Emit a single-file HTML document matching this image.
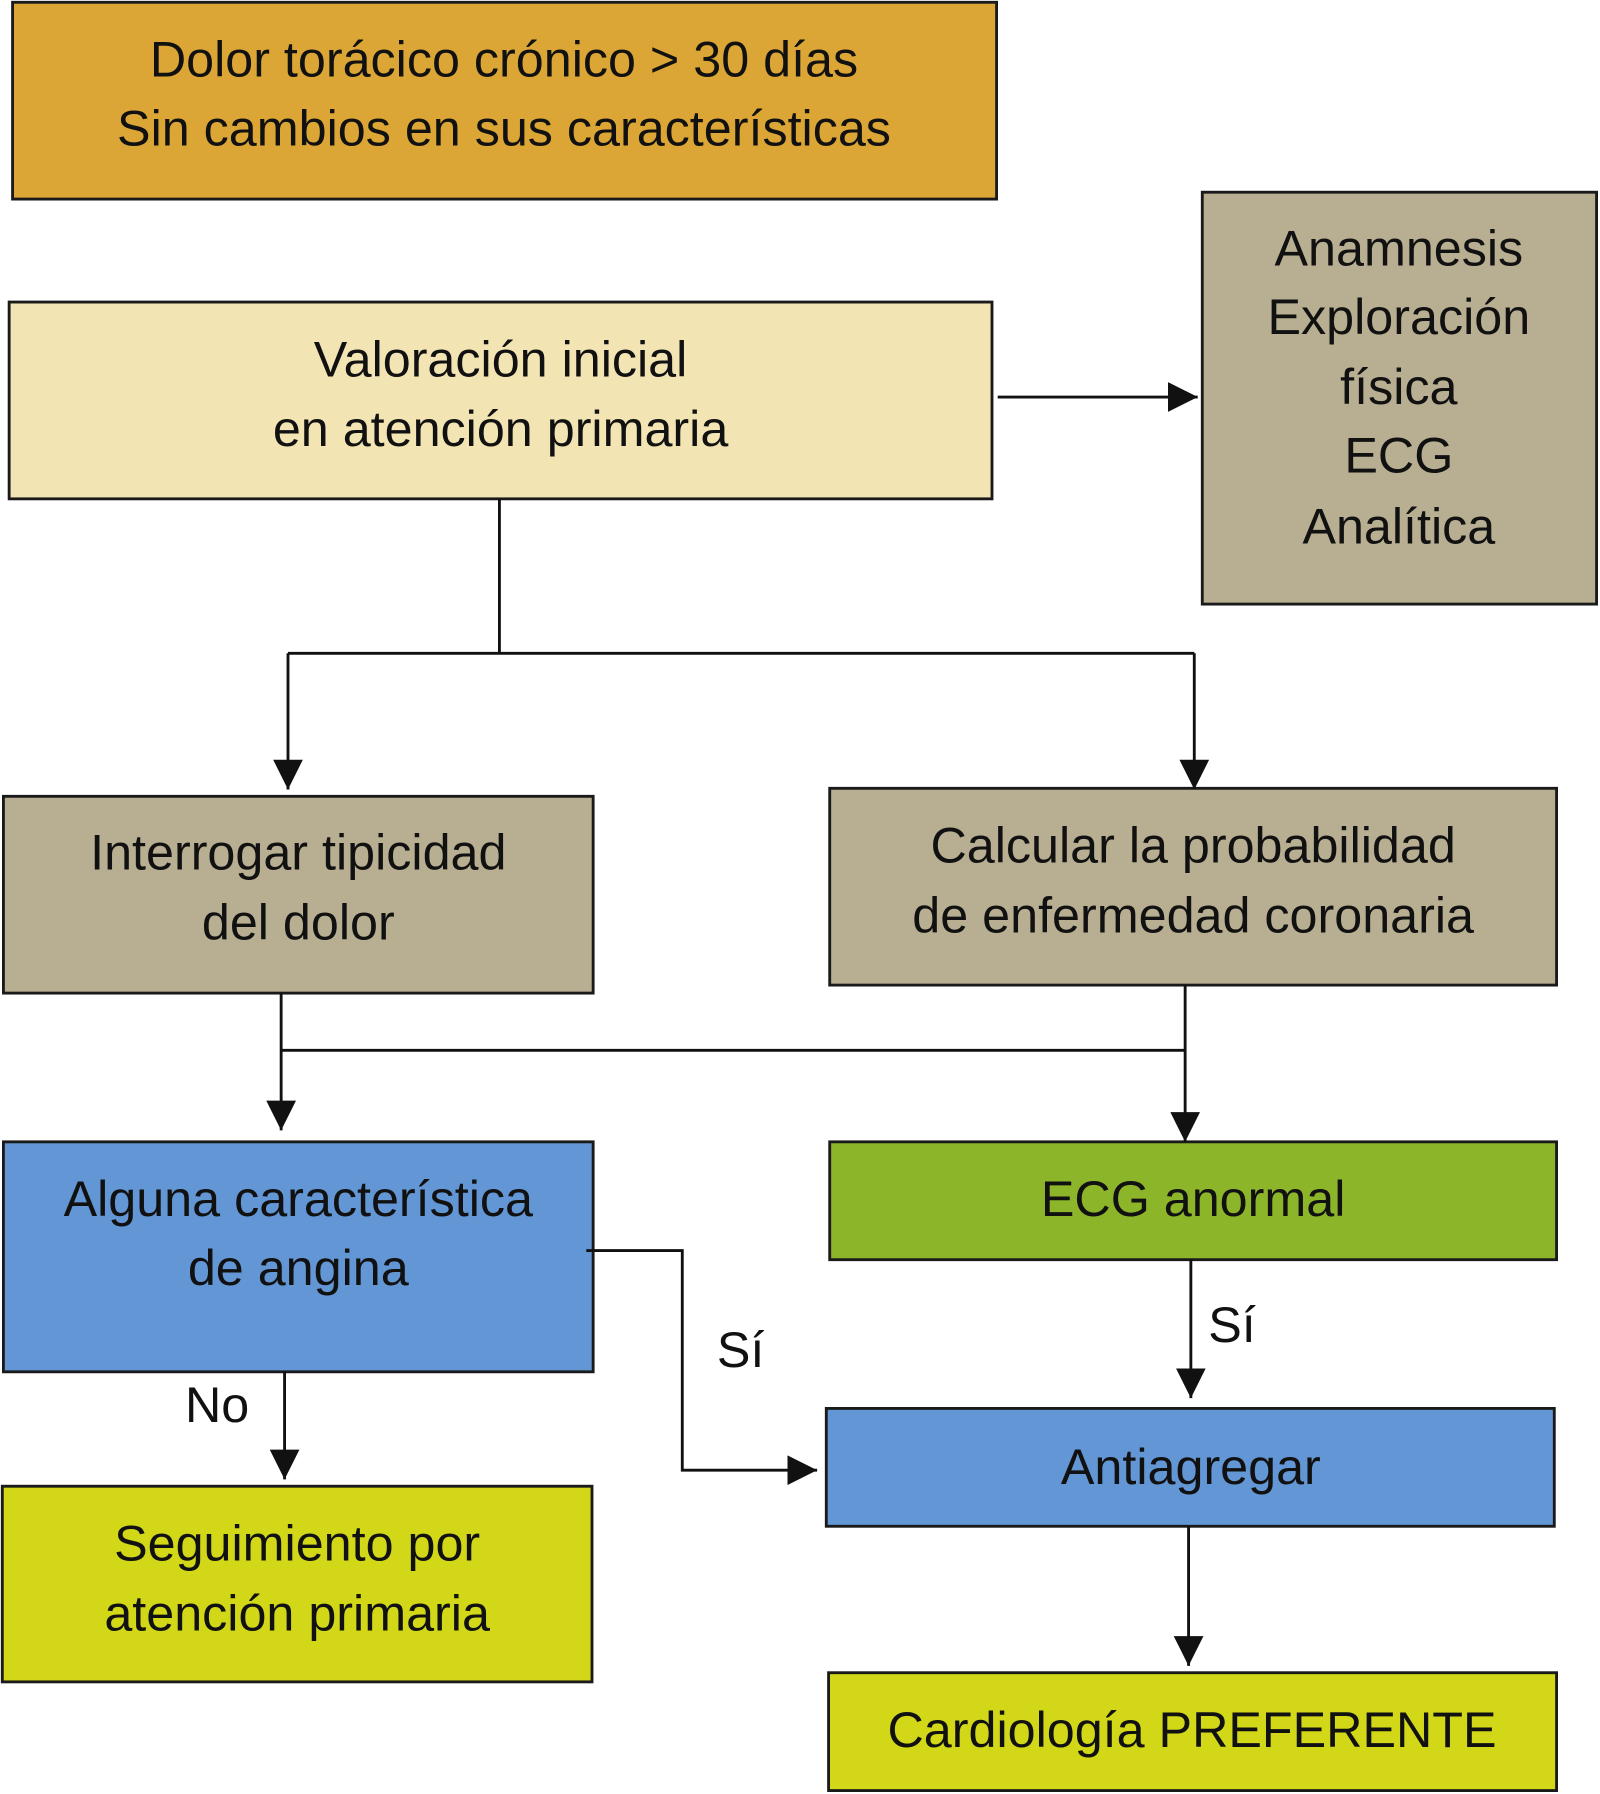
<!DOCTYPE html>
<html><head><meta charset="utf-8"><style>html,body{margin:0;padding:0;background:#fff}svg{display:block}</style></head>
<body>
<svg width="1600" height="1794" viewBox="0 0 1400 1568" preserveAspectRatio="none" xmlns="http://www.w3.org/2000/svg" font-family="Liberation Sans, Arial, sans-serif" font-size="44" text-anchor="middle">
<defs><marker id="a" markerWidth="10" markerHeight="10" refX="9" refY="5" orient="auto" markerUnits="userSpaceOnUse" viewBox="0 0 10 10"><path d="M0,0L10,5L0,10z" fill="#111"/></marker>
<marker id="b" viewBox="0 0 10 10" refX="10" refY="5" markerWidth="26" markerHeight="26" orient="auto" markerUnits="userSpaceOnUse"><path d="M0,0L10,5L0,10z" fill="#111"/></marker></defs>
<g stroke="#1a1a1a" stroke-width="2.5">
<rect x="11" y="2" width="861" height="172" fill="#DCA636"/>
<rect x="8" y="264" width="860" height="172" fill="#F3E4B3"/>
<rect x="1052" y="168" width="345" height="360" fill="#B8AE91"/>
<rect x="3" y="696" width="516" height="172" fill="#B8AE91"/>
<rect x="726" y="689" width="636" height="172" fill="#B8AE91"/>
<rect x="3" y="998" width="516" height="201" fill="#6396D4"/>
<rect x="726" y="998" width="636" height="103" fill="#8DB52A"/>
<rect x="723" y="1231" width="637" height="103" fill="#6396D4"/>
<rect x="2" y="1299" width="516" height="171" fill="#D2D717"/>
<rect x="725" y="1462" width="637" height="103" fill="#D2D717"/>
</g>
<g stroke="#111" stroke-width="2.5" fill="none">
<path d="M873 347H1048" marker-end="url(#b)"/>
<path d="M437 436V571"/>
<path d="M252 571H1045"/>
<path d="M252 571V690" marker-end="url(#b)"/>
<path d="M1045 571V690" marker-end="url(#b)"/>
<path d="M246 868V988" marker-end="url(#b)"/>
<path d="M246 918H1037"/>
<path d="M1037 861V998" marker-end="url(#b)"/>
<path d="M513 1093H597V1285H715" marker-end="url(#b)"/>
<path d="M1042 1101V1222" marker-end="url(#b)"/>
<path d="M249 1199V1293" marker-end="url(#b)"/>
<path d="M1040 1334V1456" marker-end="url(#b)"/>
</g>
<g fill="#111">
<text x="441" y="67">Dolor torácico crónico &gt; 30 días</text>
<text x="441" y="127">Sin cambios en sus características</text>
<text x="438" y="329">Valoración inicial</text>
<text x="438" y="390">en atención primaria</text>
<text x="1224" y="232">Anamnesis</text>
<text x="1224" y="292">Exploración</text>
<text x="1224" y="353">física</text>
<text x="1224" y="413">ECG</text>
<text x="1224" y="475">Analítica</text>
<text x="261" y="760">Interrogar tipicidad</text>
<text x="261" y="821">del dolor</text>
<text x="1044" y="754">Calcular la probabilidad</text>
<text x="1044" y="815">de enfermedad coronaria</text>
<text x="261" y="1063">Alguna característica</text>
<text x="261" y="1123">de angina</text>
<text x="1044" y="1063">ECG anormal</text>
<text x="1042" y="1297">Antiagregar</text>
<text x="260" y="1364">Seguimiento por</text>
<text x="260" y="1425">atención primaria</text>
<text x="1043" y="1527">Cardiología PREFERENTE</text>
<text x="648" y="1195">Sí</text>
<text x="1078" y="1173">Sí</text>
<text x="190" y="1243">No</text>
</g>
</svg>
</body></html>
